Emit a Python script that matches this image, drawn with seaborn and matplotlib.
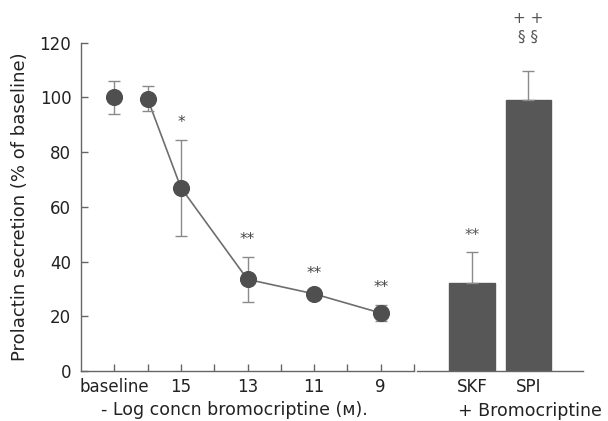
import matplotlib
matplotlib.use("Agg")
from matplotlib import pyplot as plt
import numpy as np
import pandas as pd
import seaborn as sns

# dose-response data
dose_labels = ['baseline', '', '15', '', '13', '', '11', '', '9', '']
dose_pos = [1, 2, 3, 5, 7, 9]
secretion = [100, 99.5, 67, 33.5, 28.2, 21.2]
secretion_sem = [6, 4.6, 17.5, 8.2, 1.0, 2.8]
dose_stars = ['', '', '*', '**', '**', '**']

# bromocriptine + agonist bars
groups = ['SKF', 'SPI']
bar_values = [32, 99]
bar_sem = [11.4, 10.8]

sns.set_style('ticks')
plt.rcParams['font.family'] = ['DejaVu Sans']

ink = '#222222'
axis_col = '#666666'

fig = plt.figure(figsize=(6.08, 4.21), dpi=100)
W, H = 608, 421
bottom = (H - 371) / H
height = (371 - 42.7) / H
ax = fig.add_axes([81 / W, bottom, 333 / W, height])
ax2 = fig.add_axes([417 / W, bottom, 166 / W, height])

# line through the bromocriptine doses (baseline point stands alone)
df = pd.DataFrame({'pos': dose_pos, 'val': secretion})
sns.lineplot(data=df.iloc[1:], x='pos', y='val', ax=ax, color='#6e6e6e', lw=1.2)
ax.errorbar(dose_pos, secretion, yerr=secretion_sem, fmt='none', ecolor='#8a8a8a',
            elinewidth=1, capsize=4, capthick=1, zorder=2)
sns.scatterplot(data=df, x='pos', y='val', ax=ax, color='#4f4f4f', s=130,
                edgecolor='#4f4f4f', zorder=3)
for x, v, e, s in zip(dose_pos, secretion, secretion_sem, dose_stars):
    if s:
        ax.text(x, v + e + 6.5, s, ha='center', va='center', fontsize=11,
                color='#444444')

ax.set_xlim(0, 10)
ax.set_ylim(0, 120)
ax.set_xticks(range(1, 11))
ax.set_xticklabels(dose_labels)
ax.set_yticks(range(0, 121, 20))
ax.tick_params(direction='in', length=5, width=1, color=axis_col,
               labelsize=12, labelcolor=ink)
ax.tick_params(axis='x', pad=5)
ax.tick_params(axis='y', pad=7)
ax.set_xlabel('')
ax.set_ylabel('')
for sp in ['top', 'right']:
    ax.spines[sp].set_visible(False)
for sp in ['left', 'bottom']:
    ax.spines[sp].set_color(axis_col)
    ax.spines[sp].set_linewidth(1)

# bars
sns.barplot(x=groups, y=bar_values, ax=ax2, color='#575757', width=0.81,
            saturation=1, edgecolor='#575757')
ax2.errorbar([0, 1], bar_values, yerr=[[0, 0], bar_sem], fmt='none',
             ecolor='#8a8a8a', elinewidth=1, capsize=4, capthick=1)
bar_marks = [['**'], ['§ §', '+ +']]
for i, (v, e) in enumerate(zip(bar_values, bar_sem)):
    for j, m in enumerate(bar_marks[i]):
        ax2.text(i, v + e + 6 + 7 * j + (6 if i == 1 else 0), m, ha='center',
                 va='center', fontsize=11, color='#555555', clip_on=False)
ax2.set_xlim(-0.973, 1.965)
ax2.set_ylim(0, 120)
ax2.set_yticks([])
ax2.set_xlabel('')
ax2.tick_params(axis='x', length=0, pad=5, labelsize=12, labelcolor=ink)
for sp in ['top', 'right', 'left']:
    ax2.spines[sp].set_visible(False)
ax2.spines['bottom'].set_color(axis_col)
ax2.spines['bottom'].set_linewidth(1)

fig.text(20 / W, (H - 207) / H, 'Prolactin secretion (% of baseline)',
         rotation=90, ha='center', va='center', fontsize=13, color=ink)
fig.text(234 / W, (H - 410) / H, '- Log concn bromocriptine (ᴍ).',
         ha='center', va='center', fontsize=12.5, color=ink)
fig.text(530 / W, (H - 411) / H, '+ Bromocriptine',
         ha='center', va='center', fontsize=12.5, color=ink)

fig.savefig('out.png', dpi=100)
